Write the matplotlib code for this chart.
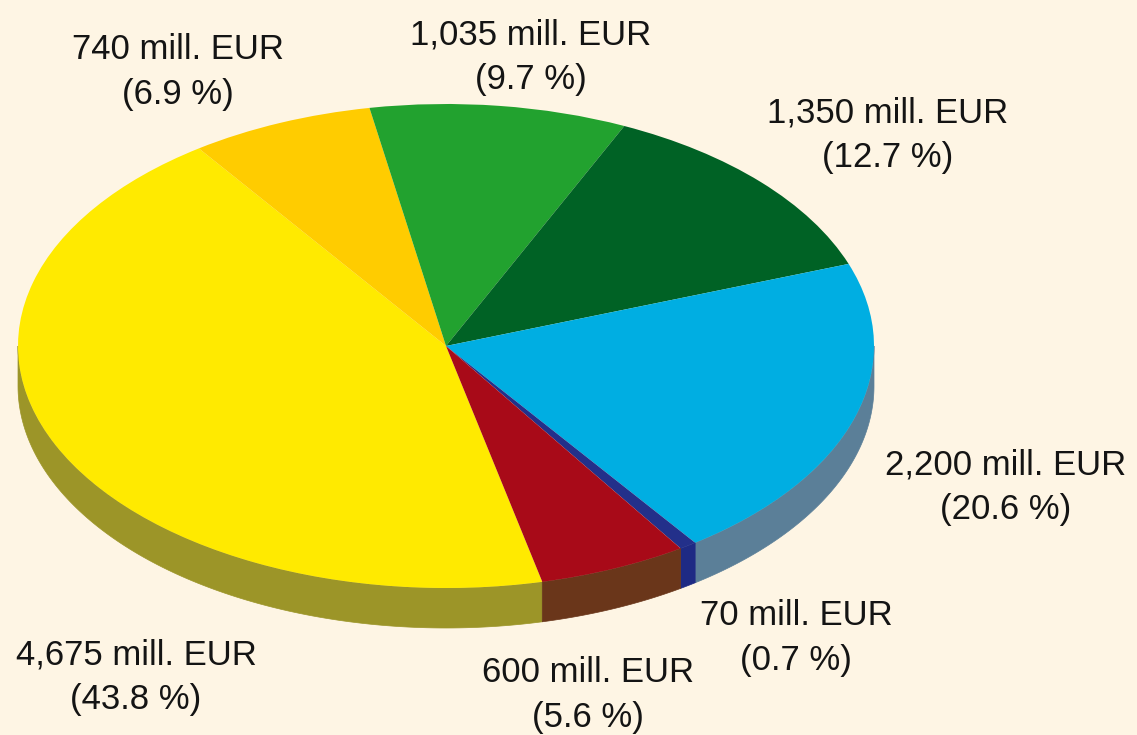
import numpy as np
import matplotlib.pyplot as plt
from matplotlib import font_manager
from matplotlib.patches import Polygon
from matplotlib.transforms import Affine2D

amounts = [4675, 740, 1035, 1350, 2200, 70, 600]
shares = [43.8, 6.9, 9.7, 12.7, 20.6, 0.7, 5.6]
amount_text = ['4,675', '740', '1,035', '1,350', '2,200', '70', '600']
top_colors = ['#FFEA00', '#FFCC00', '#22A22F', '#006225', '#00AEE2', '#23308A', '#A80A18']
side_colors = ['#9C9528', '#B08C10', '#1A6E22', '#00401A', '#5B7F98', '#1E2A84', '#6A361A']
label_pos = [(136, 677), (178, 72), (531, 57), (888, 135), (1006, 487), (796, 638), (588, 695)]

W, H = 1137, 735
bg = '#FEF5E4'

# pick a condensed face if there is one
try:
    font_manager.findfont('Liberation Sans Narrow', fallback_to_default=False)
    fam, fsize = 'Liberation Sans Narrow', 27
except Exception:
    fam, fsize = 'Liberation Sans', 25

fig = plt.figure(figsize=(W / 100, H / 100), dpi=100, facecolor=bg)
ax = fig.add_axes([0, 0, 1, 1])
ax.set_facecolor(bg)

cx, cy = 446, H - 346
rx, ry = 428, 242
depth = 40

wedges, _ = ax.pie(amounts, colors=top_colors, startangle=-77, counterclock=False,
                   radius=1, center=(0, 0), frame=True,
                   wedgeprops=dict(linewidth=0, antialiased=True))
squash = Affine2D().scale(rx, ry).translate(cx, cy) + ax.transData
for w in wedges:
    w.set_transform(squash)
    w.set_zorder(3)

# side walls of the disc, only where the rim faces the viewer
for w, col in zip(wedges, side_colors):
    a, b = w.theta1, w.theta2
    for k in (-1, 0, 1):
        lo = max(a, -180 + 360 * k)
        hi = min(b, 360 * k)
        if hi <= lo:
            continue
        t = np.radians(np.linspace(lo, hi, 120))
        xs = cx + rx * np.cos(t)
        ys = cy + ry * np.sin(t)
        pts = np.concatenate([np.column_stack([xs, ys]),
                              np.column_stack([xs[::-1], ys[::-1] - depth])])
        ax.add_patch(Polygon(pts, closed=True, facecolor=col, edgecolor=col,
                             linewidth=0.5, zorder=2))

for txt, pct, (lx, ly) in zip(amount_text, shares, label_pos):
    ax.text(lx, H - ly, f'{txt} mill. EUR\n({pct} %)', ha='center', va='center',
            multialignment='center', fontsize=fsize, family=fam, color='#141414',
            linespacing=1.45, zorder=5)

ax.set_xlim(0, W)
ax.set_ylim(0, H)
ax.set_aspect('auto')
ax.axis('off')

fig.savefig('out.png', dpi=100, facecolor=bg)
